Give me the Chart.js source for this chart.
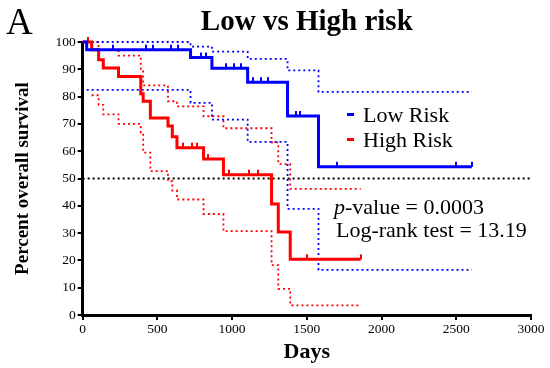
<!DOCTYPE html>
<html>
<head>
<meta charset="utf-8">
<script src="https://cdn.jsdelivr.net/npm/chart.js@4.4.0/dist/chart.umd.min.js"></script>
<style>
  html, body { margin: 0; padding: 0; background: #fff; }
  #wrap { width: 550px; height: 368px; }
</style>
</head>
<body>
<div id="wrap"><canvas id="km" width="550" height="368"></canvas></div>
<script>
// Low risk (días / % supervivencia)
const lowDays = [0, 27, 722, 865, 1104, 1371, 1578, 2604];
const lowSurv = [100, 97.2, 94.3, 90.4, 85.3, 72.9, 54.3, 54.3];
const lowCiDays = [27, 722, 865, 1104, 1371, 1578, 2604];
const lowUpper = [100, 98.3, 96.5, 93.8, 89.6, 81.7, 81.7];
const lowLower = [82.5, 77.7, 71.6, 63.4, 38.9, 16.5, 16.5];
const lowCensorDays = [204, 427, 471, 593, 638, 793, 827, 960, 1016, 1060, 1138, 1193, 1238, 1427, 1455, 1704, 2500, 2604];
const lowCensorSurv = [97.2, 97.2, 97.2, 97.2, 97.2, 94.3, 94.3, 90.4, 90.4, 90.4, 85.3, 85.3, 85.3, 72.9, 72.9, 54.3, 54.3, 54.3];

// High risk
const highDays = [0, 60, 107, 138, 240, 389, 405, 453, 571, 600, 631, 809, 942, 1264, 1309, 1389, 1860];
const highSurv = [100, 97.2, 93.5, 90.5, 87.4, 81.0, 78.3, 72.2, 69.2, 65.3, 61.3, 57.1, 51.4, 40.7, 30.4, 20.4, 20.4];
const highUpDays = [60, 107, 240, 389, 405, 571, 631, 809, 942, 1264, 1309, 1389, 1860];
const highUpper = [100, 97.1, 95.0, 89.2, 84.1, 78.3, 76.4, 72.8, 68.4, 63.2, 55.3, 46.2, 46.2];
const highLowDays = [60, 107, 138, 240, 389, 405, 453, 571, 600, 631, 809, 942, 1264, 1309, 1389, 1860];
const highLower = [80.5, 77.0, 73.5, 70.0, 66.8, 59.5, 52.7, 49.0, 45.6, 42.3, 37.0, 30.7, 18.3, 9.6, 3.5, 3.5];
const highCensorDays = [38, 671, 731, 767, 838, 982, 1116, 1171, 1504, 1860];
const highCensorSurv = [100, 61.3, 61.3, 61.3, 57.1, 51.4, 51.4, 51.4, 20.4, 20.4];

const medianLine = [50, 50];
const medianDays = [0, 3000];

const BLUE = '#0000ff';
const RED = '#ff0000';
const FONT = "'Liberation Serif', 'Times New Roman', serif";

const pts = (xs, ys) => xs.map((x, i) => ({ x: x, y: ys[i] }));

// marca de censura: palito vertical por encima de la curva
function censorMark(color) {
    const c = document.createElement('canvas');
    c.width = 2; c.height = 12;
    const g = c.getContext('2d');
    g.fillStyle = color;
    g.fillRect(0, 1, 2, 5);
    return c;
}

const stepLine = (data, color) => ({
    data: data, borderColor: color, borderWidth: 3, stepped: 'before',
    pointRadius: 0, fill: false, clip: false
});
const dotLine = (data, color) => ({
    data: data, borderColor: color, borderWidth: 1.8, borderDash: [2, 3], stepped: 'before',
    pointRadius: 0, fill: false, clip: false
});
const censors = (data, color) => ({
    data: data, showLine: false, pointStyle: censorMark(color), pointRadius: 3,
    borderColor: color, backgroundColor: color, clip: false
});

const annotations = {
    id: 'annotations',
    afterDraw(chart) {
        const ctx = chart.ctx;
        ctx.save();
        ctx.fillStyle = '#000';
        ctx.textBaseline = 'alphabetic';
        ctx.font = `37px ${FONT}`;
        ctx.fillText('A', 6, 34);

        // leyenda
        ctx.fillStyle = BLUE; ctx.fillRect(347, 113, 7, 3);
        ctx.fillStyle = RED; ctx.fillRect(347, 138, 7, 3);
        ctx.fillStyle = '#000';
        ctx.font = `22px ${FONT}`;
        ctx.fillText('Low Risk', 363, 122);
        ctx.fillText('High Risk', 363, 147);

        ctx.font = `italic 22px ${FONT}`;
        ctx.fillText('p', 334, 214);
        const w = ctx.measureText('p').width;
        ctx.font = `22px ${FONT}`;
        ctx.fillText('-value = 0.0003', 334 + w, 214);
        ctx.fillText('Log-rank test = 13.19', 336, 237);
        ctx.restore();
    }
};

new Chart(document.getElementById('km'), {
    type: 'line',
    data: {
        datasets: [
            stepLine(pts(lowDays, lowSurv), BLUE),
            stepLine(pts(highDays, highSurv), RED),
            censors(pts(lowCensorDays, lowCensorSurv), BLUE),
            censors(pts(highCensorDays, highCensorSurv), RED),
            dotLine(pts(lowCiDays, lowUpper), BLUE),
            dotLine(pts(lowCiDays, lowLower), BLUE),
            dotLine(pts(highUpDays, highUpper), RED),
            dotLine(pts(highLowDays, highLower), RED),
            { data: pts(medianDays, medianLine), borderColor: '#000', borderWidth: 1.8,
              borderDash: [2, 3], pointRadius: 0, fill: false }
        ]
    },
    options: {
        responsive: false,
        animation: false,
        layout: { padding: { left: 2, right: 19, top: 0, bottom: 0 } },
        scales: {
            x: {
                type: 'linear', min: 0, max: 3000,
                ticks: { stepSize: 500, color: '#000', padding: 1, font: { family: FONT, size: 13.5 },
                         callback: v => String(v) },
                grid: { drawOnChartArea: false, color: '#000', lineWidth: 2, tickLength: 5 },
                border: { display: true, color: '#000', width: 3 },
                title: { display: true, text: 'Days', color: '#000',
                         font: { family: FONT, size: 22, weight: 'bold' }, padding: { top: 0.6, bottom: 2.8 } }
            },
            y: {
                min: 0, max: 100,
                ticks: { stepSize: 10, color: '#000', padding: 2, font: { family: FONT, size: 13.5 } },
                grid: { drawOnChartArea: false, color: '#000', lineWidth: 2, tickLength: 5 },
                border: { display: true, color: '#000', width: 3 },
                title: { display: true, text: 'Percent overall survival', color: '#000',
                         font: { family: FONT, size: 19, weight: 'bold' }, padding: { top: 9.6, bottom: 19 } }
            }
        },
        plugins: {
            legend: { display: false },
            tooltip: { enabled: false },
            title: {
                display: true, text: 'Low vs High risk', color: '#000', fullSize: false,
                font: { family: FONT, size: 29, weight: 'bold' },
                padding: { top: 5.5, bottom: 1.7 }
            }
        }
    },
    plugins: [annotations]
});
</script>
</body>
</html>
